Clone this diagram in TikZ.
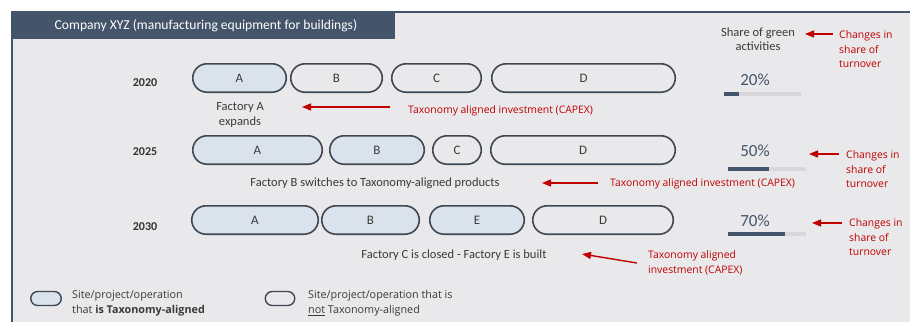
\documentclass[tikz,border=0pt]{standalone}
\usepackage{fontspec}
\setmainfont{Carlito}
\newfontfamily\segoe{Open Sans}
\usetikzlibrary{arrows.meta}
\definecolor{slate}{HTML}{44546A}
\definecolor{panelbg}{HTML}{E9E9EB}
\definecolor{pillfill}{HTML}{DAE2EC}
\definecolor{pillline}{HTML}{404854}
\definecolor{txt}{HTML}{3A3A3A}
\definecolor{redc}{HTML}{C00000}
\definecolor{barbg}{HTML}{D8D8DA}
\tikzset{
  pill/.style={draw=pillline, line width=1.6pt, rounded corners=14.2pt, minimum height=28.4pt, inner sep=0pt,
    font=\fontsize{13}{15}\selectfont, text=txt},
  green/.style={pill, fill=pillfill},
  plain/.style={pill, fill=panelbg},
  yearlab/.style={font=\fontsize{12}{14}\selectfont\bfseries, text=txt!90!black, inner sep=0pt},
  desc/.style={font=\fontsize{12.5}{15.5}\selectfont, text=txt, inner sep=0pt, align=center},
  redtxt/.style={font=\segoe\fontsize{10.4}{14.5}\selectfont, text=redc, inner sep=0pt, align=left},
  pct/.style={font=\fontsize{17}{19}\selectfont, text=slate, inner sep=0pt},
  redarrow/.style={draw=redc, line width=1.4pt, -{Triangle[length=9pt,width=7pt]}},
  legtxt/.style={font=\segoe\fontsize{10.8}{15}\selectfont, text=txt, inner sep=0pt, align=left},
}
\begin{document}
\begin{tikzpicture}[x=1pt,y=-1pt]
\useasboundingbox (0,0) rectangle (910,322);
\fill[white] (0,0) rectangle (910,322);
% panel
\fill[panelbg] (12,12) rectangle (910,322);
\draw[slate, line width=1.6pt] (910,12) -- (12,12) -- (12,322);
\node[fill=slate, minimum width=383pt, minimum height=28pt, inner sep=0pt, anchor=north west] (hdr) at (12,11) {};
\node[text=white, font=\fontsize{13.6}{15}\selectfont, inner sep=0pt] (hdrtxt) at (206,26) {Company XYZ (manufacturing equipment for buildings)};

% years
\node[yearlab] (y1) at (145,83) {2020};
\node[yearlab] (y2) at (145,152) {2025};
\node[yearlab] (y3) at (145,227) {2030};

% row 2020
\node[green, minimum width=93.5pt] (a1) at (239.5,78) {A};
\node[plain, minimum width=91.5pt] (b1) at (336.5,78) {B};
\node[plain, minimum width=89.5pt] (c1) at (436.5,78) {C};
\node[plain, minimum width=183.5pt] (d1) at (583.5,78) {D};
% row 2025
\node[green, minimum width=129.5pt] (a2) at (257.5,150) {A};
\node[green, minimum width=94.5pt] (b2) at (377,150) {B};
\node[plain, minimum width=48.5pt] (c2) at (457,150) {C};
\node[plain, minimum width=184.5pt] (d2) at (583,150) {D};
% row 2030
\node[green, minimum width=126.5pt] (a3) at (255,220) {A};
\node[green, minimum width=97.5pt] (b3) at (370.5,220) {B};
\node[green, minimum width=94.5pt] (e3) at (477,220) {E};
\node[plain, minimum width=140.5pt] (d3) at (603,220) {D};

% descriptions
\node[desc] (f1) at (240,115) {Factory A\\expands};
\node[desc] (f2) at (375,183) {Factory B switches to Taxonomy-aligned products};
\node[desc] (f3) at (454,255) {Factory C is closed - Factory E is built};

% red capex texts and arrows
\node[redtxt, anchor=west] (r1) at (408,111) {Taxonomy aligned investment (CAPEX)};
\node[redtxt, anchor=west] (r2) at (610,184) {Taxonomy aligned investment (CAPEX)};
\node[redtxt, anchor=west] (r3) at (648,263) {Taxonomy aligned\\investment (CAPEX)};
\coordinate (r1t) at (390,107); \coordinate (r1h) at (302,107);
\coordinate (r2t) at (598,183); \coordinate (r2h) at (542,183);
\coordinate (r3t) at (637,263); \coordinate (r3h) at (582,254);
\draw[redarrow] (r1t) -- (r1h);
\draw[redarrow] (r2t) -- (r2h);
\draw[redarrow] (r3t) -- (r3h);

% share column
\node[font=\fontsize{12.5}{14.5}\selectfont, text=txt, align=center, inner sep=0pt] (share) at (758,39) {Share of green\\activities};
\node[pct] (p1) at (755,80) {20\%};
\node[pct] (p2) at (755,151) {50\%};
\node[pct] (p3) at (755,221) {70\%};
\draw[barbg, line width=3.5pt] (724,94) -- (801,94);
\draw[slate, line width=3.5pt] (724,94) -- (739,94);
\draw[barbg, line width=3.5pt] (728,169) -- (806,169);
\draw[slate, line width=3.5pt] (728,169) -- (769,169);
\draw[barbg, line width=3.5pt] (728,234) -- (806,234);
\draw[slate, line width=3.5pt] (728,234) -- (785,234);

% turnover notes
\node[redtxt, anchor=west] (t1) at (839,49.5) {Changes in\\share of\\turnover};
\node[redtxt, anchor=west] (t2) at (846,169.5) {Changes in\\share of\\turnover};
\node[redtxt, anchor=west] (t3) at (849,237.5) {Changes in\\share of\\turnover};
\coordinate (t1t) at (833,34); \coordinate (t1h) at (805,34);
\coordinate (t2t) at (839,154); \coordinate (t2h) at (809,154);
\coordinate (t3t) at (842,223); \coordinate (t3h) at (812,223);
\draw[redarrow] (t1t) -- (t1h);
\draw[redarrow] (t2t) -- (t2h);
\draw[redarrow] (t3t) -- (t3h);

% legend
\node[draw=pillline, fill=pillfill, line width=1.4pt, rounded corners=7pt, minimum width=30.5pt, minimum height=14pt, inner sep=0pt] (lg1) at (46,298.5) {};
\node[draw=pillline, fill=panelbg, line width=1.4pt, rounded corners=7pt, minimum width=29.5pt, minimum height=14pt, inner sep=0pt] (lg2) at (280,298.5) {};
\node[legtxt, anchor=west] (lt1) at (72,303.5) {Site/project/operation\\that \textbf{is Taxonomy-aligned}};
\node[legtxt, anchor=west] (lt2) at (308,303.5) {Site/project/operation that is\\\underline{not} Taxonomy-aligned};
\end{tikzpicture}
\end{document}
